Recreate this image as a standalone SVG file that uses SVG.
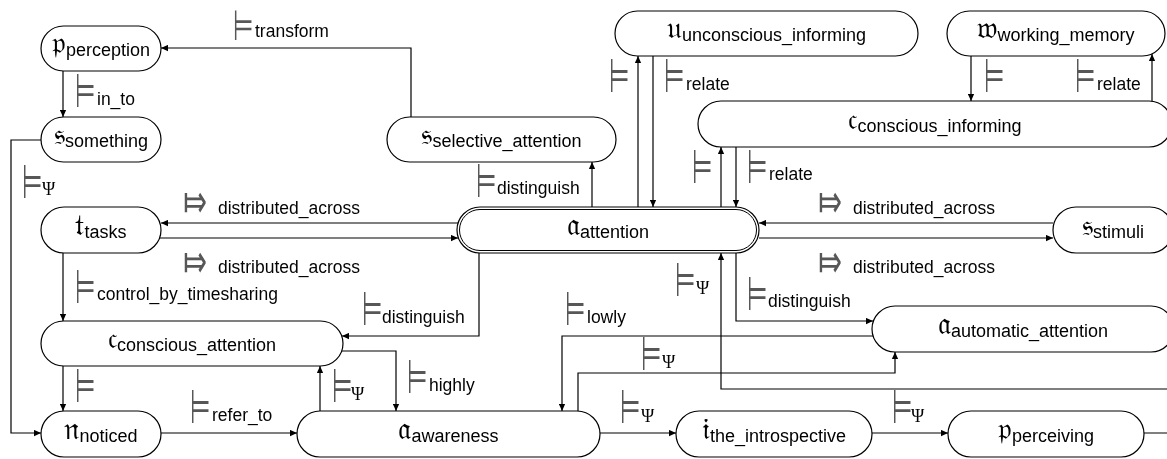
<svg xmlns="http://www.w3.org/2000/svg" width="1167" height="459" viewBox="0 0 1167 459">
<style>
.nd{fill:#fff;stroke:#000;stroke-width:1.2}
.nt{font-family:"Liberation Sans",Arial,sans-serif;font-size:18px;fill:#000}
.fk{font-family:"DejaVu Serif","DejaVu Sans",serif;font-size:30px}
.cn path{fill:none;stroke:#000;stroke-width:1.2;marker-end:url(#ah)}
.tu{font-family:"DejaVu Sans",sans-serif;font-size:47px;fill:#555}
.ds{font-family:"DejaVu Sans",sans-serif;font-size:46px;fill:#555}
.lt{font-family:"Liberation Sans",Arial,sans-serif;font-size:17.5px;fill:#000}
.ps{font-family:"Liberation Serif","Times New Roman",serif;font-size:18px;fill:#000}
</style>
<defs>
<marker id="ah" viewBox="0 0 10 10" refX="10" refY="5" markerWidth="9" markerHeight="7" orient="auto" markerUnits="userSpaceOnUse"><path d="M0,0.5 L10,5 L0,9.5z" fill="#000"/></marker>
</defs>
<rect width="1167" height="459" fill="#fff"/>
<g id="connectors" class="cn">
<path d="M411,117 V48 H161"/>
<path d="M63,71 V117"/>
<path d="M41,140 H11 V433 H41"/>
<path d="M458,223 H161"/>
<path d="M160,238 H458"/>
<path d="M63,253 V321"/>
<path d="M63,366 V411"/>
<path d="M161,433 H297"/>
<path d="M479,253 V336 H342"/>
<path d="M342,351 H396 V411"/>
<path d="M320,411 V366"/>
<path d="M592,207 V162"/>
<path d="M638,207 V56"/>
<path d="M653,56 V207"/>
<path d="M721,207 V147"/>
<path d="M736,147 V207"/>
<path d="M971,56 V101"/>
<path d="M1152,103 V54"/>
<path d="M1053,223 H759"/>
<path d="M759,238 H1053"/>
<path d="M736,253 V321 H873"/>
<path d="M873,336 H562 V411"/>
<path d="M578,411 V373 H895 V352"/>
<path d="M1144,433 H1180 V389 H721 V253"/>
<path d="M600,433 H676"/>
<path d="M872,433 H948"/>
</g>
<g id="labels" opacity="0.99">
<text class="tu" style="font-size:42px" transform="translate(233,40) scale(.56,1)">⊨</text><text class="lt" x="255" y="37">transform</text>
<text class="tu" transform="translate(75,107) scale(.5,1)">⊨</text><text class="lt" x="97" y="105">in_to</text>
<text class="tu" transform="translate(22,198) scale(.5,1)">⊨</text><text class="ps" x="42" y="195">Ψ</text>
<text class="ds" transform="translate(183,217) scale(.62,1)">⤇</text><text class="lt" x="218" y="214">distributed_across</text>
<text class="ds" transform="translate(183,277) scale(.62,1)">⤇</text><text class="lt" x="218" y="273">distributed_across</text>
<text class="tu" transform="translate(75,303) scale(.5,1)">⊨</text><text class="lt" x="97" y="300">control_by_timesharing</text>
<text class="tu" transform="translate(75,402) scale(.5,1)">⊨</text>
<text class="tu" transform="translate(190,423) scale(.5,1)">⊨</text><text class="lt" x="212" y="421">refer_to</text>
<text class="tu" transform="translate(332,402) scale(.5,1)">⊨</text><text class="ps" x="351" y="400">Ψ</text>
<text class="tu" transform="translate(362,325) scale(.5,1)">⊨</text><text class="lt" x="382" y="323">distinguish</text>
<text class="tu" transform="translate(407,393) scale(.5,1)">⊨</text><text class="lt" x="429" y="391">highly</text>
<text class="tu" transform="translate(565,325) scale(.5,1)">⊨</text><text class="lt" x="587" y="323">lowly</text>
<text class="tu" transform="translate(675,296) scale(.5,1)">⊨</text><text class="ps" x="696" y="294">Ψ</text>
<text class="tu" transform="translate(641,370) scale(.5,1)">⊨</text><text class="ps" x="662" y="368">Ψ</text>
<text class="tu" transform="translate(620,423) scale(.5,1)">⊨</text><text class="ps" x="641" y="422">Ψ</text>
<text class="tu" transform="translate(892,423) scale(.5,1)">⊨</text><text class="ps" x="911" y="422">Ψ</text>
<text class="tu" transform="translate(476,197) scale(.5,1)">⊨</text><text class="lt" x="497" y="194">distinguish</text>
<text class="tu" transform="translate(609,92) scale(.5,1)">⊨</text>
<text class="tu" transform="translate(664,92) scale(.5,1)">⊨</text><text class="lt" x="686" y="90">relate</text>
<text class="tu" transform="translate(692,183) scale(.5,1)">⊨</text>
<text class="tu" transform="translate(747,183) scale(.5,1)">⊨</text><text class="lt" x="769" y="180">relate</text>
<text class="tu" transform="translate(984,92) scale(.5,1)">⊨</text>
<text class="tu" transform="translate(1075,92) scale(.5,1)">⊨</text><text class="lt" x="1097" y="90">relate</text>
<text class="ds" transform="translate(818,217) scale(.62,1)">⤇</text><text class="lt" x="853" y="214">distributed_across</text>
<text class="ds" transform="translate(818,277) scale(.62,1)">⤇</text><text class="lt" x="853" y="273">distributed_across</text>
<text class="tu" transform="translate(747,310) scale(.5,1)">⊨</text><text class="lt" x="768" y="307">distinguish</text>
</g>
<g id="n-perception"><rect class="nd" x="41" y="26" width="120" height="45" rx="22.5"/><text class="nt" x="101" y="56" text-anchor="middle"><tspan class="fk" dy="-3">&#x1D52D;</tspan><tspan dy="3">perception</tspan></text></g>
<g id="n-something"><rect class="nd" x="41" y="117" width="120" height="45" rx="22.5"/><text class="nt" x="101" y="147" text-anchor="middle"><tspan class="fk" dy="-3">&#x1D530;</tspan><tspan dy="3">something</tspan></text></g>
<g id="n-tasks"><rect class="nd" x="41" y="207" width="120" height="46" rx="23"/><text class="nt" x="101" y="238" text-anchor="middle"><tspan class="fk" dy="-3">&#x1D531;</tspan><tspan dy="3">tasks</tspan></text></g>
<g id="n-conscious_attention"><rect class="nd" x="41" y="321" width="302" height="45" rx="22.5"/><text class="nt" x="192" y="351" text-anchor="middle"><tspan class="fk" dy="-3">&#x1D520;</tspan><tspan dy="3">conscious_attention</tspan></text></g>
<g id="n-noticed"><rect class="nd" x="41" y="411" width="120" height="46" rx="23"/><text class="nt" x="101" y="442" text-anchor="middle"><tspan class="fk" dy="-3">&#x1D52B;</tspan><tspan dy="3">noticed</tspan></text></g>
<g id="n-awareness"><rect class="nd" x="297" y="411" width="303" height="46" rx="23"/><text class="nt" x="448.5" y="442" text-anchor="middle"><tspan class="fk" dy="-3">&#x1D51E;</tspan><tspan dy="3">awareness</tspan></text></g>
<g id="n-the_introspective"><rect class="nd" x="676" y="411" width="196" height="46" rx="23"/><text class="nt" x="774" y="442" text-anchor="middle"><tspan class="fk" dy="-3">&#x1D526;</tspan><tspan dy="3">the_introspective</tspan></text></g>
<g id="n-perceiving"><rect class="nd" x="948" y="411" width="196" height="46" rx="23"/><text class="nt" x="1046" y="442" text-anchor="middle"><tspan class="fk" dy="-3">&#x1D52D;</tspan><tspan dy="3">perceiving</tspan></text></g>
<g id="n-selective_attention"><rect class="nd" x="387" y="117" width="229" height="45" rx="22.5"/><text class="nt" x="501.5" y="147" text-anchor="middle"><tspan class="fk" dy="-3">&#x1D530;</tspan><tspan dy="3">selective_attention</tspan></text></g>
<g id="n-unconscious_informing"><rect class="nd" x="615" y="11" width="303" height="45" rx="22.5"/><text class="nt" x="766.5" y="41" text-anchor="middle"><tspan class="fk" dy="-3">&#x1D532;</tspan><tspan dy="3">unconscious_informing</tspan></text></g>
<g id="n-working_memory"><rect class="nd" x="947" y="11" width="218" height="45" rx="22.5"/><text class="nt" x="1056" y="41" text-anchor="middle"><tspan class="fk" dy="-3">&#x1D534;</tspan><tspan dy="3">working_memory</tspan></text></g>
<g id="n-conscious_informing"><rect class="nd" x="698" y="101" width="474" height="46" rx="23"/><text class="nt" x="935" y="132" text-anchor="middle"><tspan class="fk" dy="-3">&#x1D520;</tspan><tspan dy="3">conscious_informing</tspan></text></g>
<g id="n-attention"><rect class="nd" x="457" y="207" width="302" height="46" rx="23" stroke-width="1.6"/><rect x="459.5" y="209.5" width="297" height="41" rx="20.5" fill="none" stroke="#000" stroke-width="1"/><text class="nt" x="608" y="238" text-anchor="middle"><tspan class="fk" dy="-3">&#x1D51E;</tspan><tspan dy="3">attention</tspan></text></g>
<g id="n-stimuli"><rect class="nd" x="1053" y="207" width="120" height="46" rx="23"/><text class="nt" x="1113" y="238" text-anchor="middle"><tspan class="fk" dy="-3">&#x1D530;</tspan><tspan dy="3">stimuli</tspan></text></g>
<g id="n-automatic_attention"><rect class="nd" x="872" y="306" width="302" height="46" rx="23"/><text class="nt" x="1023" y="337" text-anchor="middle"><tspan class="fk" dy="-3">&#x1D51E;</tspan><tspan dy="3">automatic_attention</tspan></text></g>
</svg>
